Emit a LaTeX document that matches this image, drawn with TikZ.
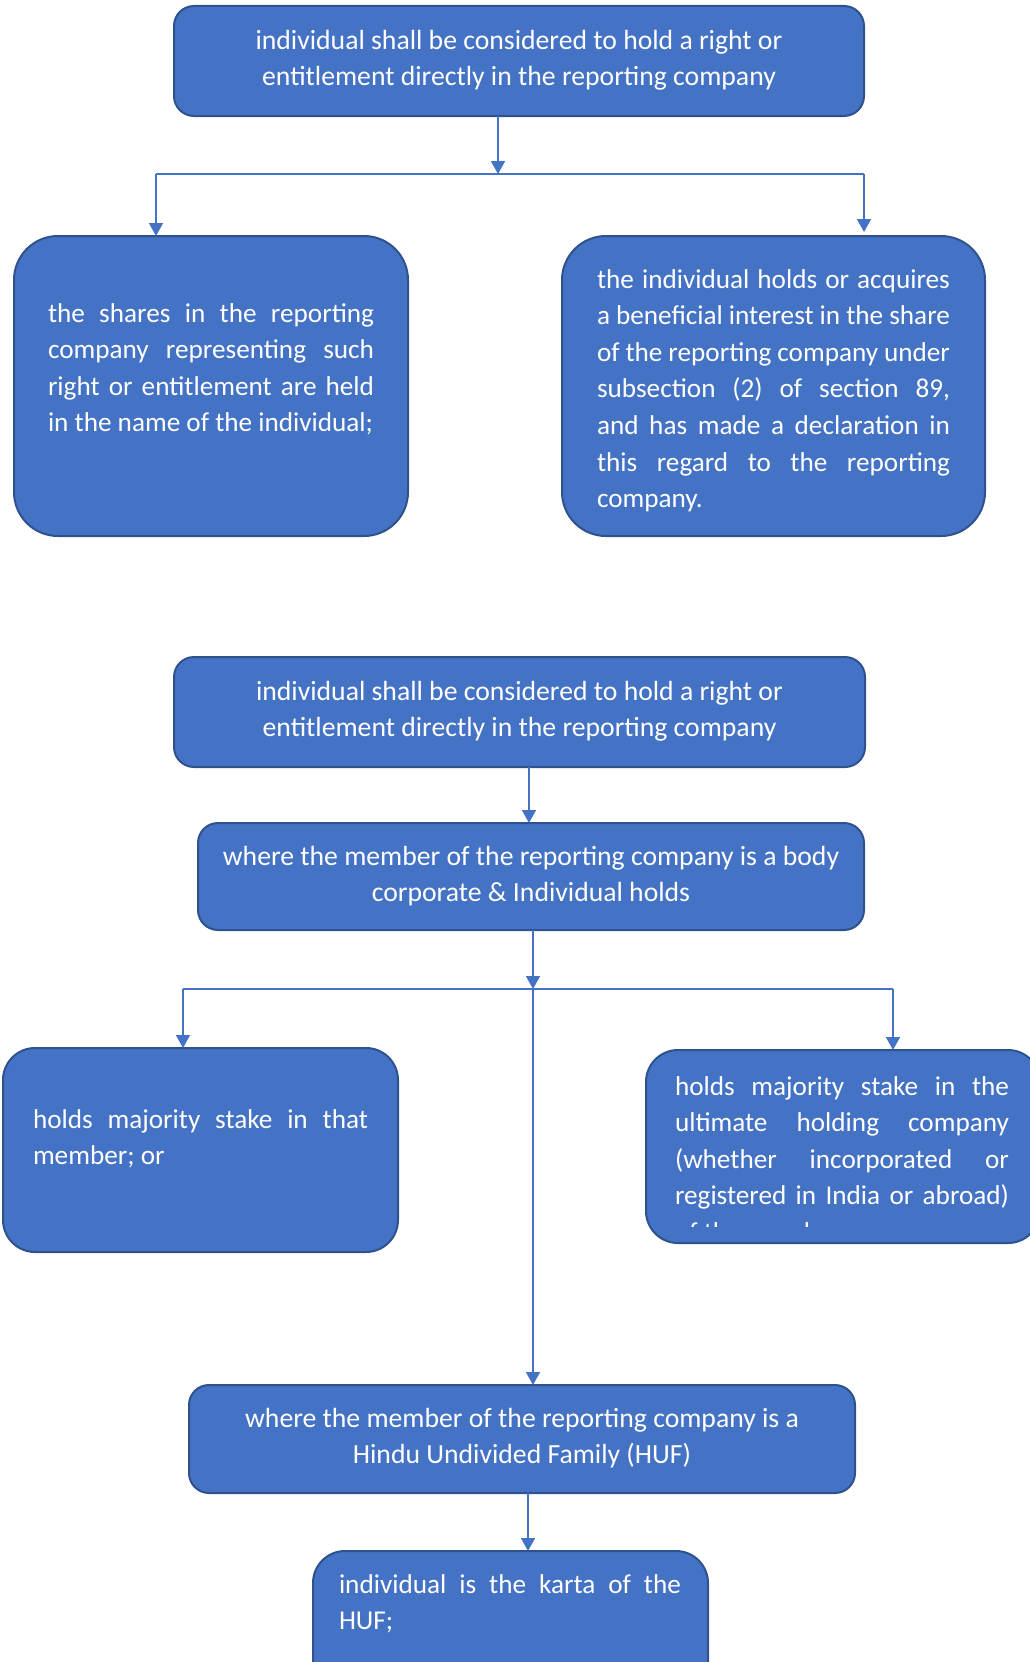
\documentclass[tikz,border=0pt]{standalone}
\usepackage{fontspec}
\setmainfont{Carlito}
\usetikzlibrary{arrows.meta}

\definecolor{boxfill}{HTML}{4472C4}
\definecolor{boxline}{HTML}{2F528F}
\definecolor{wire}{HTML}{4472C4}

% no hyphenation: every line break is given explicitly
\hyphenpenalty=10000
\exhyphenpenalty=10000
\tolerance=10000

\tikzset{
  box/.style={draw=boxline, fill=boxfill, line width=2pt, anchor=north west,
    inner sep=0pt, outer sep=0pt},
  smallbox/.style={box, rounded corners=20pt},
  bigbox/.style={box, rounded corners=44pt},
  midbox/.style={box, rounded corners=32pt},
  txt/.style={text=white, inner sep=0pt, outer sep=0pt,
    font=\fontsize{27.2}{36.6}\selectfont},
  jtxt/.style={txt, align=justify, anchor=base west},
  ctxt/.style={txt, font=\fontsize{27.7}{36.8}\selectfont,
    align=flush center, anchor=base, text width=660pt},
  conn/.style={draw=wire, line width=1.6pt},
  arr/.style={conn, -{Triangle[width=14pt,length=13pt]}}
}

\begin{document}
\begin{tikzpicture}[x=1pt, y=-1pt]
\useasboundingbox (0,0) rectangle (1030,1662);
\clip (0,0) rectangle (1030,1662);

% ---------- first chart ----------
\node[smallbox, minimum width=690pt, minimum height=110pt] (B1) at (174,6) {};
\node[ctxt] (t1) at (519,49)
  {individual shall be considered to hold a right or\\entitlement directly in the reporting company};

\node[bigbox, minimum width=394pt, minimum height=300pt] (B2) at (14,236) {};
\node[jtxt, text width=326pt] (t2) at (48,322)
  {the shares in the reporting\linebreak company representing such\linebreak right or entitlement are held\linebreak in the name of the individual;};

\node[bigbox, minimum width=423pt, minimum height=300pt] (B3) at (562,236) {};
\node[jtxt, text width=353pt] (t3) at (597,288)
  {the individual holds or acquires\linebreak a beneficial interest in the share\linebreak of the reporting company under\linebreak subsection (2) of section 89,\linebreak and has made a declaration in\linebreak this regard to the reporting\linebreak company.};

\coordinate (hub1) at (498,174);
\coordinate (hubL1) at (156,174);
\coordinate (hubR1) at (864,174);
\draw[arr] (B1.south -| hub1) -- (hub1);
\draw[conn] (hubL1) -- (hubR1);
\draw[arr] (hubL1) -- (hubL1 |- B2.north);
\draw[arr, shorten >=4pt] (hubR1) -- (hubR1 |- B3.north);

% ---------- second chart ----------
\node[smallbox, minimum width=691pt, minimum height=110pt] (B4) at (174,657) {};
\node[ctxt] (t4) at (519.5,700)
  {individual shall be considered to hold a right or\\entitlement directly in the reporting company};

\node[smallbox, minimum width=666pt, minimum height=107pt] (B5) at (198,823) {};
\node[ctxt] (t5) at (531,865)
  {where the member of the reporting company is a body\\corporate \& Individual holds};

\node[midbox, minimum width=395pt, minimum height=204pt] (B6) at (3,1048) {};
\node[jtxt, text width=335pt] (t6) at (33,1128)
  {holds majority stake in that\linebreak member; or};

\node[midbox, minimum width=394pt, minimum height=193pt] (B7) at (646,1050) {};
\begin{scope}
  \clip (640,1050) rectangle (1040,1226);
  \node[jtxt, text width=334pt] (t7) at (675,1095)
    {holds majority stake in the\linebreak ultimate holding company\linebreak (whether incorporated or\linebreak registered in India or abroad)\linebreak of the member;};
\end{scope}

\node[smallbox, minimum width=666pt, minimum height=108pt] (B8) at (189,1385) {};
\node[ctxt] (t8) at (522,1427)
  {where the member of the reporting company is a\\Hindu Undivided Family (HUF)};

\node[midbox, minimum width=395pt, minimum height=160pt] (B9) at (313,1551) {};
\node[jtxt, text width=342pt] (t9) at (339,1593)
  {individual is the karta of the\linebreak HUF;};

\coordinate (hub2) at (533,989);
\coordinate (hubL2) at (183,989);
\coordinate (hubR2) at (893,989);
\coordinate (drop4) at (529,0);
\coordinate (drop8) at (528,0);
\draw[arr] (B4.south -| drop4) -- (B5.north -| drop4);
\draw[arr] (B5.south -| hub2) -- (hub2);
\draw[conn] (hubL2) -- (hubR2);
\draw[arr] (hubL2) -- (hubL2 |- B6.north);
\draw[arr] (hubR2) -- (hubR2 |- B7.north);
\draw[arr] (hub2) -- (hub2 |- B8.north);
\draw[arr] (B8.south -| drop8) -- (B9.north -| drop8);
\end{tikzpicture}
\end{document}
